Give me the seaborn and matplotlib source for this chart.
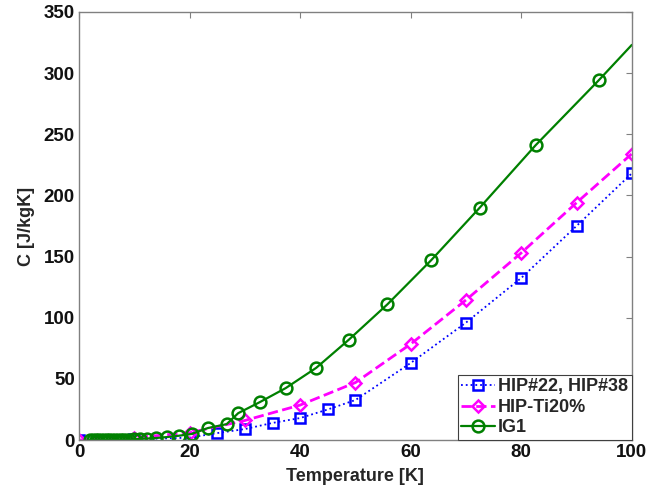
import matplotlib
matplotlib.use("Agg")
import matplotlib.pyplot as plt
import seaborn as sns
import pandas as pd

# HIP#22, HIP#38
hip_T = [0, 10, 20, 25, 30, 35, 40, 45, 50, 60, 70, 80, 90, 100]
hip_C = [0, 0.5, 2, 5.7, 9, 14, 18, 25, 32.7, 63, 96, 132.5, 175, 218]

# HIP-Ti20%
ti_T = [0, 10, 20, 30, 40, 50, 60, 70, 80, 90, 100]
ti_C = [0, 2, 6, 16, 28.6, 47, 78.5, 114.5, 153, 194, 234]

# IG1
ig_T = [2, 2.5, 3, 3.5, 4, 4.5, 5, 5.5, 6, 6.5, 7, 7.5, 8, 8.5, 9, 10, 11,
        12.3, 14, 16, 18, 20.4, 23.3, 26.7, 28.8, 32.7, 37.4, 42.9, 48.8,
        55.8, 63.7, 72.5, 82.6, 94.0, 100]
ig_C = [0.02, 0.03, 0.04, 0.05, 0.06, 0.08, 0.1, 0.12, 0.15, 0.18, 0.22, 0.27,
        0.32, 0.38, 0.45, 0.65, 0.9, 1.2, 1.7, 2.5, 3.5, 5, 9.8, 13, 22, 31,
        42.5, 59, 82, 111, 147, 190, 241, 294, 323]

labels = ["HIP#22, HIP#38", "HIP-Ti20%", "IG1"]

sns.set_style("white")
plt.rcParams["font.family"] = ["Liberation Sans", "DejaVu Sans"]
plt.rcParams["font.weight"] = "bold"

fig = plt.figure(figsize=(6.48, 4.95), dpi=100)
ax = fig.add_axes([0.122, 0.111, 0.853, 0.865])

df_hip = pd.DataFrame({"T": hip_T, "C": hip_C})
df_ti = pd.DataFrame({"T": ti_T, "C": ti_C})
df_ig = pd.DataFrame({"T": ig_T, "C": ig_C})

sns.lineplot(data=df_hip, x="T", y="C", ax=ax, color="#0000ff", linestyle=":",
             linewidth=1.3, marker="s", markersize=7, markerfacecolor="none",
             markeredgecolor="#0000ff", markeredgewidth=1.8, sort=False,
             estimator=None, label=labels[0])
sns.lineplot(data=df_ti, x="T", y="C", ax=ax, color="#ff00ff", linestyle="--",
             linewidth=2.0, dashes=(4, 2), marker="D", markersize=6.5,
             markerfacecolor="none", markeredgecolor="#ff00ff",
             markeredgewidth=1.8, sort=False, estimator=None, label=labels[1])
sns.lineplot(data=df_ig, x="T", y="C", ax=ax, color="#008000", linestyle="-",
             linewidth=1.6, marker="o", markersize=8.5, markerfacecolor="none",
             markeredgecolor="#008000", markeredgewidth=1.8, sort=False,
             estimator=None, markevery=list(range(len(ig_T) - 1)),
             label=labels[2])

ax.set_xlim(0, 100)
ax.set_ylim(0, 350)
ax.set_xticks([0, 20, 40, 60, 80, 100])
ax.set_yticks([0, 50, 100, 150, 200, 250, 300, 350])
ax.set_xlabel("Temperature [K]", fontsize=13, fontweight="bold", labelpad=5)
ax.set_ylabel("C [J/kgK]", fontsize=13, fontweight="bold", labelpad=6)
for s in ax.spines.values():
    s.set_color("#808080")
    s.set_linewidth(1.0)
ax.tick_params(direction="in", length=4, color="#808080", top=True,
               right=True, labelsize=13.5, pad=3, labelcolor="#111111")
for t in ax.get_xticklabels() + ax.get_yticklabels():
    t.set_fontweight("bold")

leg = ax.legend(loc="lower right", borderaxespad=0, fancybox=False,
                framealpha=1, edgecolor="#404040", fontsize=13,
                handlelength=1.9, handletextpad=0.15, borderpad=0.2,
                labelspacing=0.2)
leg.get_frame().set_linewidth(0.8)

fig.savefig("out.png", dpi=100)
